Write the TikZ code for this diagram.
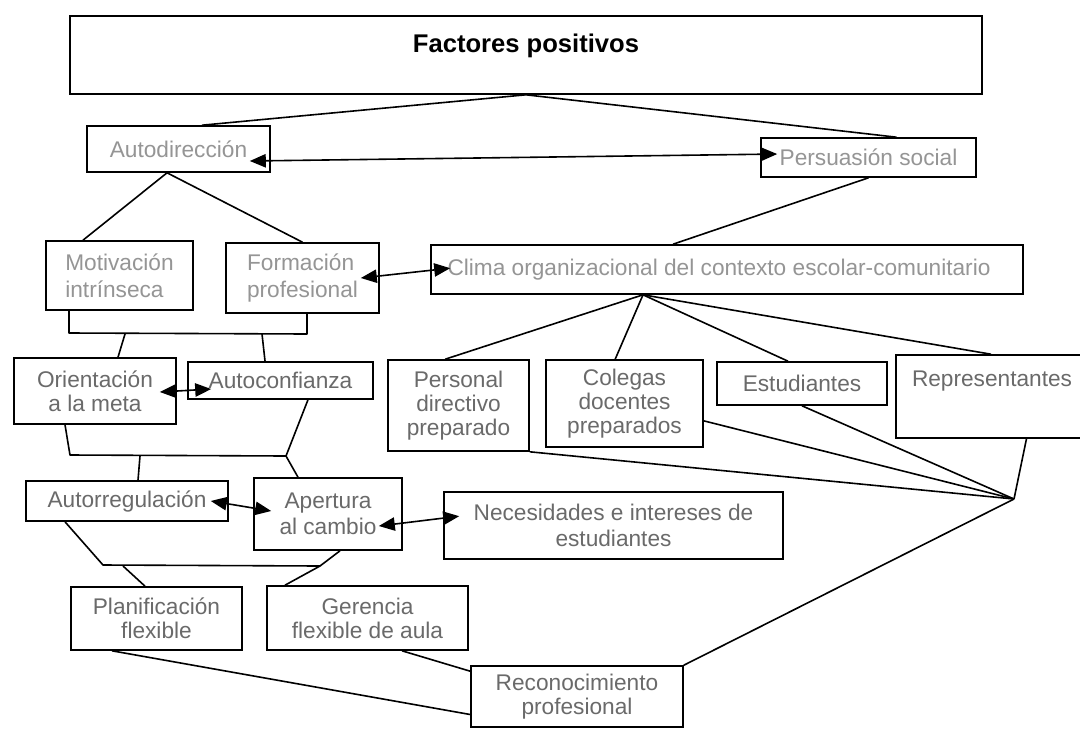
\documentclass[tikz,border=0pt]{standalone}
\usepackage{fontspec}
\setmainfont{Liberation Sans}
\usetikzlibrary{arrows.meta}
\definecolor{inkA}{HTML}{959595}
\definecolor{inkB}{HTML}{6A6A6A}
\begin{document}
\begin{tikzpicture}[x=0.75pt,y=-0.75pt,
  box/.style={draw=black, line width=1.2pt, inner sep=0pt, align=center,
    font=\fontsize{17}{18}\selectfont, text=inkB},
  sz/.style 2 args={minimum width={#1*0.75pt}, minimum height={#2*0.75pt}},
  pale/.style={text=inkA},
  wide/.style={font=\fontsize{17}{19.5}\selectfont},
  link/.style={line width=1.2pt, line join=round},
  both/.style={line width=1.2pt,
    {Triangle[length=12pt,width=10pt]}-{Triangle[length=12pt,width=10pt]}}]
\useasboundingbox (0,0) rectangle (1080,728);
\fill[white] (0,0) rectangle (1080,728);

% boxes
\node[box, sz={912}{78}] (top) at (526,55) {};
\node[anchor=base, font=\fontsize{19.2}{22}\selectfont\bfseries] (ttl) at (526,52) {Factores positivos};

\node[box, pale, sz={183}{46}] (auto) at (178.5,149) {Autodirección};
\node[box, pale, sz={215}{39}] (pers) at (868.5,157.5) {Persuasión social};
\node[box, pale, sz={147}{69}, align=left, font=\fontsize{17}{20}\selectfont] (motiv) at (119.5,275.5) {Motivación\\intrínseca};
\node[box, pale, sz={153}{70}, align=left, font=\fontsize{17}{20}\selectfont] (form) at (302.5,278) {Formación\\profesional};
\node[box, pale, sz={592}{49}] (clima) at (727,269.5) {Clima organizacional del contexto escolar-comunitario\hspace*{12pt}};

\node[box, sz={162}{66}] (orient) at (95,391) {Orientación\\a la meta};
\node[box, sz={185}{37}] (aconf) at (280.5,380.5) {Autoconfianza};
\node[box, sz={202}{40}] (autor) at (127,501) {Autorregulación};
\node[box, wide, sz={148}{72}] (apert) at (328,514) {Apertura\\al cambio};
\node[box, wide, sz={339}{67}] (neces) at (613.5,525.5) {Necesidades e intereses de\\estudiantes};
\node[box, sz={171}{63}] (plan) at (156.5,618.5) {Planificación\\flexible};
\node[box, sz={201}{64}] (ger) at (367.5,618) {Gerencia\\flexible de aula};
\node[box, sz={212}{61}] (recon) at (577,696.5) {Reconocimiento\\profesional};

\node[box, sz={141}{91}] (personal) at (458.5,405.5) {Personal\\directivo\\preparado};
\node[box, sz={157}{87}] (coleg) at (624.5,403.5) {Colegas\\docentes\\preparados};
\node[box, sz={170}{43}] (estud) at (802,383.5) {Estudiantes};
\node[box, sz={190}{83}] (repres) at (991,396.5) {};
\node[anchor=base, font=\fontsize{17}{18}\selectfont, text=inkB] (reptxt) at (992,386) {Representantes};

% junction points
\coordinate (cv) at ([xshift=-63pt]clima.south);
\coordinate (conv) at (1014,499);
\coordinate (b1L) at (69,333);
\coordinate (b1R) at (307,334);
\coordinate (b1a) at (125,334);
\coordinate (b1b) at (262,334);
\coordinate (b2L) at (70,455);
\coordinate (b2R) at (286,456);
\coordinate (b2a) at (140,456);
\coordinate (b3L) at (103,565);
\coordinate (b3R) at (320,566);
\coordinate (b3a) at (123,566);

% tree connectors
\draw[link] (top.south) -- ([xshift=17.6pt]auto.north);
\draw[link] (top.south) -- ([xshift=21pt]pers.north);
\draw[link] ([xshift=-8.6pt]auto.south) -- ([xshift=-27.4pt]motiv.north);
\draw[link] ([xshift=-8.6pt]auto.south) -- (form.north);
\draw[link] (pers.south) -- ([xshift=-40.5pt]clima.north);

\draw[link] ([xshift=-37.9pt]motiv.south) -- (b1L) -- (b1R) -- ([xshift=3.4pt]form.south);
\draw[link] (b1a) -- ([xshift=17.25pt]orient.north);
\draw[link] (b1b) -- ([xshift=-11.6pt]aconf.north);

\draw[link] ([xshift=-22.5pt]orient.south) -- (b2L) -- (b2R) -- ([xshift=20.6pt]aconf.south);
\draw[link] (b2R) -- ([xshift=-22.5pt]apert.north);
\draw[link] (b2a) -- ([xshift=8.25pt]autor.north);

\draw[link] ([xshift=-46.5pt]autor.south) -- (b3L) -- (b3R) -- ([xshift=9pt]apert.south);
\draw[link] (b3R) -- ([xshift=-61.9pt]ger.north);
\draw[link] (b3a) -- ([xshift=-8.6pt]plan.north);

\draw[link] ([xshift=-33.4pt]plan.south) -- ([yshift=-13.5pt]recon.west);
\draw[link] ([xshift=25.9pt]ger.south) -- ([yshift=-4.5pt]recon.north west);

\draw[link] (cv) -- ([xshift=-10pt]personal.north);
\draw[link] (cv) -- ([xshift=-7pt]coleg.north);
\draw[link] (cv) -- ([xshift=-10.5pt]estud.north);
\draw[link] (cv) -- (repres.north);

\draw[link] (personal.south east) -- (conv);
\draw[link] ([yshift=-13pt]coleg.east) -- (conv);
\draw[link] (estud.south) -- (conv);
\draw[link] ([xshift=26.6pt]repres.south) -- (conv);
\draw[link] (recon.north east) -- (conv);

% two-way relations
\draw[both] ([xshift=-15.75pt,yshift=-9pt]auto.east) -- ([xshift=12.75pt,yshift=2.6pt]pers.west);
\draw[both] ([xshift=-14.25pt]form.east) -- ([xshift=15pt,yshift=1pt]clima.west);
\draw[both] ([xshift=-12.75pt,yshift=-0.75pt]orient.east) -- ([xshift=18pt,yshift=-6.4pt]aconf.west);
\draw[both] ([xshift=-13.5pt]autor.east) -- ([xshift=13.5pt,yshift=2.25pt]apert.west);
\draw[both] ([xshift=-18pt,yshift=-9pt]apert.east) -- ([xshift=12pt,yshift=7pt]neces.west);
\end{tikzpicture}
\end{document}
